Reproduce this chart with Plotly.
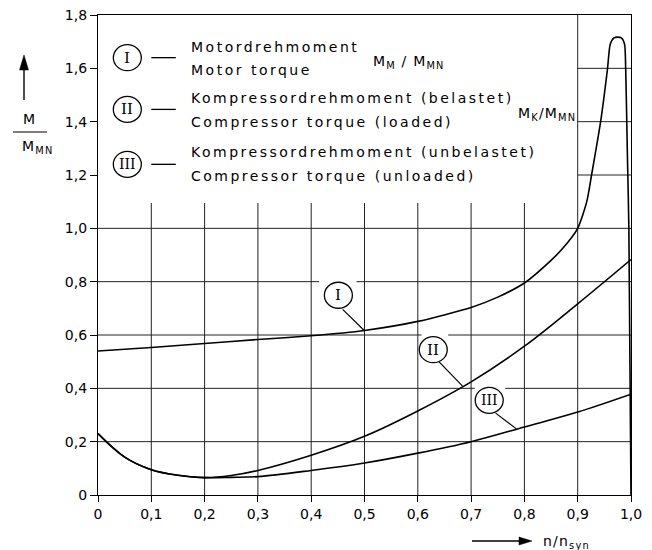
import plotly.graph_objects as go

# ---------------- data ----------------
x_motor = [0, 0.1, 0.2, 0.3, 0.4, 0.5, 0.6, 0.7, 0.75, 0.8, 0.85, 0.872, 0.9, 0.917, 0.926,
           0.943, 0.956, 0.961, 0.968, 0.975, 0.982, 0.988, 0.990, 0.993, 0.996, 1.0]
y_motor = [0.54, 0.553, 0.568, 0.583, 0.597, 0.617, 0.651, 0.703, 0.742, 0.795, 0.88, 0.925, 1.0, 1.1, 1.2,
           1.4, 1.6, 1.69, 1.714, 1.717, 1.714, 1.69, 1.6, 1.3, 1.0, 0.0]

x_loaded = [0, 0.05, 0.1, 0.15, 0.2, 0.25, 0.3, 0.4, 0.5, 0.6, 0.7, 0.8, 0.9, 1.0]
y_loaded = [0.23, 0.142, 0.095, 0.074, 0.065, 0.073, 0.092, 0.149, 0.22, 0.315, 0.424, 0.558, 0.717, 0.883]

x_unloaded = [0, 0.05, 0.1, 0.15, 0.2, 0.25, 0.3, 0.4, 0.5, 0.6, 0.7, 0.8, 0.9, 1.0]
y_unloaded = [0.23, 0.142, 0.095, 0.074, 0.065, 0.066, 0.069, 0.092, 0.12, 0.157, 0.2, 0.255, 0.311, 0.378]

x_ticks = [0, 0.1, 0.2, 0.3, 0.4, 0.5, 0.6, 0.7, 0.8, 0.9, 1.0]
x_ticklabels = ["0", "0,1", "0,2", "0,3", "0,4", "0,5", "0,6", "0,7", "0,8", "0,9", "1,0"]
y_ticks = [0, 0.2, 0.4, 0.6, 0.8, 1.0, 1.2, 1.4, 1.6, 1.8]
y_ticklabels = ["0", "0,2", "0,4", "0,6", "0,8", "1,0", "1,2", "1,4", "1,6", "1,8"]

legend_numerals = ["I", "II", "III"]
legend_lines = [
    "Motordrehmoment", "Motor torque",
    "Kompressordrehmoment (belastet)", "Compressor torque (loaded)",
    "Kompressordrehmoment (unbelastet)", "Compressor torque (unloaded)",
]

# ---------------- layout geometry ----------------
OFF = 8                      # page body margin of the html page
W, H = 652 - OFF, 550 - OFF
SL, ST, PW, PH = 98, 15, 533, 480   # plot area in screen pixels
ML, MT = SL - OFF, ST - OFF
MR, MB = W - ML - PW, H - MT - PH

def px(x):  # screen pixel -> paper x
    return (x - SL) / PW

def py(y):  # screen pixel -> paper y
    return (ST + PH - y) / PH

FONT = "DejaVu Sans"
SERIF = "DejaVu Serif"
GRID = "#222"
LS = "letter-spacing:2.5px"

def spaced(t, s=LS):
    return f'<span style="{s}">{t}</span>'

fig = go.Figure()
line_style = dict(color="black", width=1.6, shape="spline", smoothing=1.0)
fig.add_trace(go.Scatter(x=x_motor, y=y_motor, mode="lines",
                         line=dict(color="black", width=1.6, shape="spline", smoothing=0.6)))
fig.add_trace(go.Scatter(x=x_loaded, y=y_loaded, mode="lines", line=line_style))
fig.add_trace(go.Scatter(x=x_unloaded, y=y_unloaded, mode="lines", line=line_style))

shapes = []
def hline(y, x0, x1, color=GRID):
    shapes.append(dict(type="line", xref="x", yref="y", x0=x0, x1=x1, y0=y, y1=y,
                       line=dict(color=color, width=1), layer="below"))
def vline(x, y0, y1, color=GRID):
    shapes.append(dict(type="line", xref="x", yref="y", x0=x, x1=x, y0=y0, y1=y1,
                       line=dict(color=color, width=1), layer="below"))

# vertical grid
for xv in x_ticks[1:9]:
    vline(xv, 0, 1.095)
vline(0.9, 0, 1.8)
# horizontal grid
hline(0.2, 0, 1)
hline(0.4, 0, 0.707); hline(0.4, 0.764, 1)
hline(0.6, 0, 0.607); hline(0.6, 0.657, 1)
hline(0.8, 0, 0.415); hline(0.8, 0.485, 1)
hline(1.0, 0, 1)
for yv in [1.2, 1.4, 1.6]:
    hline(yv, 0.9, 1.0)

annotations = []

# circled curve labels with leader lines
def circ_label(xd, yd, txt, size=15):
    shapes.append(dict(type="circle", xref="x", yref="y", xsizemode="pixel", ysizemode="pixel",
                       xanchor=xd, yanchor=yd, x0=-14, x1=14, y0=-13, y1=13,
                       line=dict(color="black", width=1.3), fillcolor="white", layer="above"))
    annotations.append(dict(x=xd, y=yd, xref="x", yref="y", text=txt, showarrow=False,
                            font=dict(family=SERIF, size=size, color="black"),
                            xanchor="center", yanchor="middle"))

def leader(x0, y0, x1, y1):
    shapes.append(dict(type="line", xref="x", yref="y", x0=x0, y0=y0, x1=x1, y1=y1,
                       line=dict(color="black", width=1.2)))

leader(0.459, 0.696, 0.499, 0.618)
leader(0.640, 0.499, 0.684, 0.408)
leader(0.746, 0.307, 0.785, 0.248)
circ_label(0.451, 0.749, legend_numerals[0])
circ_label(0.629, 0.545, legend_numerals[1])
circ_label(0.734, 0.355, legend_numerals[2], size=14)

# legend block
leg_y = [1.640, 1.446, 1.240]
for i, yv in enumerate(leg_y):
    circ_label(0.055, yv, legend_numerals[i], size=15 if i < 2 else 14)
    shapes.append(dict(type="line", xref="x", yref="y", x0=0.100, x1=0.146, y0=yv, y1=yv,
                       line=dict(color="black", width=1.3)))

text_y = [1.681, 1.594, 1.487, 1.399, 1.285, 1.195]
for t, yv in zip(legend_lines, text_y):
    annotations.append(dict(x=0.170, y=yv, xref="x", yref="y", text=spaced(t), showarrow=False,
                            xanchor="left", yanchor="middle",
                            font=dict(family=FONT, size=14, color="black")))

annotations.append(dict(x=0.513, y=1.624, xref="x", yref="y",
                        text=spaced("M<sub>M</sub> / M<sub>MN</sub>", "letter-spacing:1.2px"),
                        showarrow=False, xanchor="left", yanchor="middle",
                        font=dict(family=FONT, size=14, color="black")))
annotations.append(dict(x=0.785, y=1.430, xref="x", yref="y",
                        text=spaced("M<sub>K</sub>/M<sub>MN</sub>", "letter-spacing:1.2px"),
                        showarrow=False, xanchor="left", yanchor="middle",
                        font=dict(family=FONT, size=14, color="black")))

# arrows drawn as shapes (shaft + filled head)
def arrow(x0, y0, x1, y1, head=15, half=4.5):
    import math
    L = math.hypot(x1 - x0, y1 - y0)
    ux, uy = (x1 - x0) / L, (y1 - y0) / L
    bx, by = x1 - ux * head, y1 - uy * head
    shapes.append(dict(type="line", xref="paper", yref="paper",
                       x0=px(x0), y0=py(y0), x1=px(bx + ux * 2), y1=py(by + uy * 2),
                       line=dict(color="black", width=1.4)))
    p1 = (bx - uy * half, by + ux * half)
    p2 = (bx + uy * half, by - ux * half)
    path = (f"M {px(x1)},{py(y1)} L {px(p1[0])},{py(p1[1])} "
            f"L {px(p2[0])},{py(p2[1])} Z")
    shapes.append(dict(type="path", xref="paper", yref="paper", path=path,
                       fillcolor="black", line=dict(color="black", width=0.5)))

# y axis title: arrow + fraction
arrow(24, 100, 24, 55)
annotations.append(dict(x=px(29), y=py(119), xref="paper", yref="paper", text=spaced("M", "letter-spacing:1px"),
                        showarrow=False, xanchor="center", yanchor="middle",
                        font=dict(family=FONT, size=14, color="black")))
shapes.append(dict(type="line", xref="paper", yref="paper", x0=px(13), x1=px(47), y0=py(132), y1=py(132),
                   line=dict(color="black", width=1.2)))
annotations.append(dict(x=px(20), y=py(147), xref="paper", yref="paper",
                        text=spaced("M<sub>MN</sub>", "letter-spacing:1.2px"),
                        showarrow=False, xanchor="left", yanchor="middle",
                        font=dict(family=FONT, size=14, color="black")))

# x axis title: arrow + n/n_syn
arrow(472, 541, 532, 541, head=13, half=4)
annotations.append(dict(x=px(541), y=py(542), xref="paper", yref="paper",
                        text=spaced("n/n<sub>syn</sub>", "letter-spacing:1.2px"),
                        showarrow=False, xanchor="left", yanchor="middle",
                        font=dict(family=FONT, size=14, color="black")))

fig.update_layout(
    width=W, height=H,
    margin=dict(l=ML, r=MR, t=MT, b=MB, autoexpand=False),
    plot_bgcolor="white", paper_bgcolor="white",
    showlegend=False,
    shapes=shapes, annotations=annotations,
    font=dict(family=FONT, size=14, color="black"),
)
fig.update_xaxes(range=[0, 1], tickvals=x_ticks, ticktext=x_ticklabels, showgrid=False, zeroline=False,
                 showline=True, mirror=True, linecolor="black", linewidth=1.3,
                 ticks="outside", ticklen=6, tickcolor="black", tickwidth=1.2,
                 ticklabeloverflow="allow",
                 tickfont=dict(family=FONT, size=14, color="black"))
fig.update_yaxes(range=[0, 1.8], tickvals=y_ticks, ticktext=y_ticklabels, showgrid=False, zeroline=False,
                 showline=True, mirror=True, linecolor="black", linewidth=1.3,
                 ticks="outside", ticklen=7, tickcolor="black", tickwidth=1.2,
                 ticklabeloverflow="allow",
                 tickfont=dict(family=FONT, size=14, color="black"))

fig.write_html("out.html")
